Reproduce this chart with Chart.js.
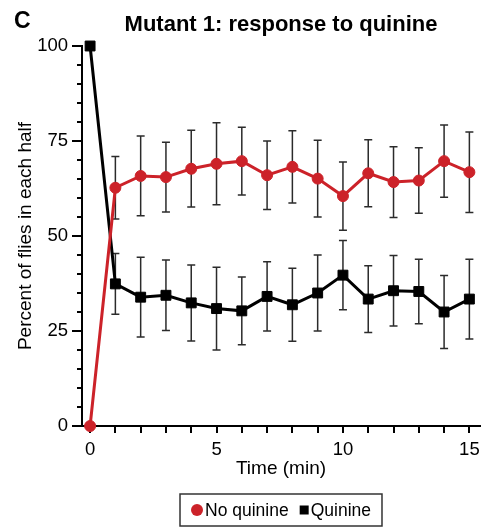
<!DOCTYPE html>
<html>
<head>
<meta charset="utf-8">
<script src="https://cdn.jsdelivr.net/npm/chart.js@4.4.1/dist/chart.umd.min.js"></script>
<style>
  html, body { margin: 0; padding: 0; background: #fff; }
  #wrap { width: 483px; height: 529px; }
</style>
</head>
<body>
<div id="wrap"><canvas id="flyChart"></canvas></div>
<script>
// Data (percent of flies, mean +/- error)
const times = [0, 1, 2, 3, 4, 5, 6, 7, 8, 9, 10, 11, 12, 13, 14, 15];
const noQuinine = [0, 62.7, 65.8, 65.5, 67.7, 69.0, 69.7, 66.0, 68.2, 65.1, 60.5, 66.5, 64.2, 64.6, 69.7, 66.8];
const noQuinineErr = [0, 8.2, 10.5, 9.2, 10.1, 10.8, 8.9, 9.0, 9.5, 10.1, 9.0, 8.8, 9.3, 8.6, 9.5, 10.6];
const quinine = [100, 37.4, 33.9, 34.4, 32.4, 30.9, 30.3, 34.1, 31.9, 35.0, 39.7, 33.4, 35.6, 35.4, 30.0, 33.4];
const quinineErr = [0, 8.0, 10.5, 9.3, 10.0, 10.9, 8.9, 9.1, 9.6, 10.0, 9.1, 8.8, 9.3, 8.5, 9.6, 10.5];
const seriesLabels = ["No quinine", "Quinine"];

const RED = "#cc2229";
const SANS = "'Liberation Sans', Arial, sans-serif";

const ctx = document.getElementById("flyChart").getContext("2d");

// error bars behind the lines and markers
const errorBars = {
  id: "errorBars",
  beforeDatasetsDraw(chart) {
    const { ctx, scales: { x, y } } = chart;
    ctx.save();
    ctx.strokeStyle = "#2b2b2b";
    ctx.lineWidth = 1.5;
    [[noQuinine, noQuinineErr], [quinine, quinineErr]].forEach(([vals, errs]) => {
      vals.forEach((v, i) => {
        if (!errs[i]) return;
        const px = x.getPixelForValue(times[i]);
        const top = y.getPixelForValue(v + errs[i]);
        const bot = y.getPixelForValue(v - errs[i]);
        ctx.beginPath();
        ctx.moveTo(px, top); ctx.lineTo(px, bot);
        ctx.moveTo(px - 4, top); ctx.lineTo(px + 4, top);
        ctx.moveTo(px - 4, bot); ctx.lineTo(px + 4, bot);
        ctx.stroke();
      });
    });
    ctx.restore();
  }
};

// outward tick marks, long ones at labelled values
const axisTicks = {
  id: "axisTicks",
  beforeDatasetsDraw(chart) {
    const { ctx, scales: { x, y } } = chart;
    ctx.save();
    ctx.strokeStyle = "#000";
    ctx.lineWidth = 2;
    ctx.beginPath();
    y.ticks.forEach(t => {
      const py = Math.round(y.getPixelForValue(t.value));
      const len = t.value % 25 === 0 ? 10 : 5;
      ctx.moveTo(y.right, py);
      ctx.lineTo(y.right - len, py);
    });
    x.ticks.forEach(t => {
      const px = Math.round(x.getPixelForValue(t.value));
      ctx.moveTo(px, x.top);
      ctx.lineTo(px, x.top + 7);
    });
    ctx.stroke();
    ctx.restore();
  }
};

// panel letter and boxed legend
const panelExtras = {
  id: "panelExtras",
  afterDraw(chart) {
    const { ctx, chartArea } = chart;
    ctx.save();
    ctx.fillStyle = "#000";
    ctx.font = "bold 23px " + SANS;
    ctx.textBaseline = "alphabetic";
    ctx.fillText("C", 14, 28);

    ctx.font = "17.5px " + SANS;
    const w1 = ctx.measureText(seriesLabels[0]).width;
    const w2 = ctx.measureText(seriesLabels[1]).width;
    const boxW = 11 + 12 + 2 + w1 + 11 + 9 + 2 + w2 + 11;
    const boxH = 32;
    const left = (chartArea.left + chartArea.right) / 2 - boxW / 2;
    const top = 494;
    const cy = top + boxH / 2;
    ctx.strokeStyle = "#333";
    ctx.lineWidth = 1.5;
    ctx.strokeRect(left, top, boxW, boxH);

    let xPos = left + 11;
    ctx.fillStyle = RED;
    ctx.beginPath();
    ctx.arc(xPos + 6, cy, 6, 0, Math.PI * 2);
    ctx.fill();
    xPos += 14;
    ctx.fillStyle = "#000";
    ctx.textBaseline = "middle";
    ctx.fillText(seriesLabels[0], xPos, cy + 1);
    xPos += w1 + 11;
    ctx.fillRect(xPos, cy - 4.5, 9, 9);
    xPos += 11;
    ctx.fillText(seriesLabels[1], xPos, cy + 1);
    ctx.restore();
  }
};

new Chart(ctx, {
  type: "line",
  data: {
    datasets: [{
      label: seriesLabels[0],
      data: times.map((t, i) => ({ x: t, y: noQuinine[i] })),
      borderColor: RED,
      backgroundColor: RED,
      borderWidth: 3,
      pointStyle: "circle",
      pointRadius: 5.5,
      pointBorderWidth: 1,
      pointBackgroundColor: RED,
      tension: 0,
      clip: false,
      order: 0
    }, {
      label: seriesLabels[1],
      data: times.map((t, i) => ({ x: t, y: quinine[i] })),
      borderColor: "#000",
      backgroundColor: "#000",
      borderWidth: 3,
      pointStyle: "rect",
      pointRadius: 7,
      pointBorderWidth: 1,
      pointBackgroundColor: "#000",
      tension: 0,
      clip: false,
      order: 1
    }]
  },
  options: {
    responsive: true,
    maintainAspectRatio: false,
    animation: false,
    layout: { autoPadding: false, padding: { left: 0, right: 3, top: 0, bottom: 45 } },
    plugins: {
      legend: { display: false },
      tooltip: { enabled: false },
      title: {
        display: true,
        text: "Mutant 1: response to quinine",
        fullSize: false,
        color: "#000",
        font: { family: SANS, size: 22, weight: "bold" },
        padding: { top: 12, bottom: 7.6 }
      }
    },
    scales: {
      x: {
        type: "linear",
        min: -0.32,
        max: 15.42,
        afterBuildTicks: scale => { scale.ticks = times.map(v => ({ value: v })); },
        afterFit: scale => {
          scale.height = 58;
          scale.paddingLeft = 0;
          scale.paddingRight = 0;
        },
        grid: { drawOnChartArea: false, drawTicks: false },
        border: { display: true, color: "#000", width: 2 },
        ticks: {
          autoSkip: false,
          maxRotation: 0,
          padding: 13,
          color: "#000",
          font: { family: SANS, size: 18.5 },
          callback: v => (v % 5 === 0 ? v : "")
        },
        title: {
          display: true,
          text: "Time (min)",
          color: "#000",
          font: { family: SANS, size: 19 },
          padding: { top: 0, bottom: 4 }
        }
      },
      y: {
        min: 0,
        max: 100,
        afterFit: scale => { scale.width = 82; },
        grid: { drawOnChartArea: false, drawTicks: false },
        border: { display: true, color: "#000", width: 2 },
        ticks: {
          stepSize: 5,
          autoSkip: false,
          padding: 14,
          color: "#000",
          font: { family: SANS, size: 18.5 },
          callback: v => (v % 25 === 0 ? v : "")
        },
        title: {
          display: true,
          text: "Percent of flies in each half",
          color: "#000",
          font: { family: SANS, size: 19 },
          padding: { top: 14.6, bottom: 0 }
        }
      }
    }
  },
  plugins: [errorBars, axisTicks, panelExtras]
});
</script>
</body>
</html>
